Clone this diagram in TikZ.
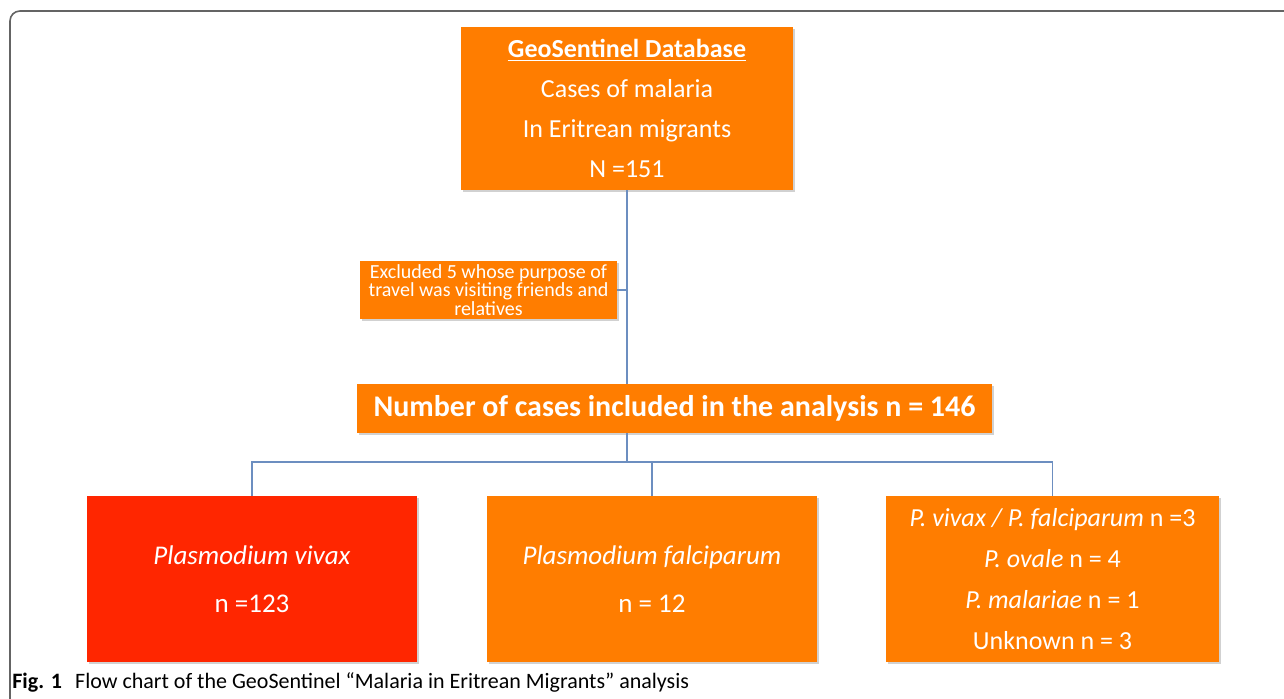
\documentclass[tikz,border=0pt]{standalone}
\usepackage{fontspec}
\setmainfont{Carlito}
\usetikzlibrary{shadows}
\definecolor{boxorange}{RGB}{255,125,0}
\definecolor{boxred}{RGB}{255,38,0}
\definecolor{linkblue}{RGB}{108,142,192}
\definecolor{framegray}{RGB}{100,100,100}
\begin{document}
\begin{tikzpicture}[x=0.5pt,y=-0.5pt,
    cbox/.style={fill=boxorange,text=white,align=center,inner sep=0pt,
        drop shadow={shadow xshift=0.8pt,shadow yshift=-0.8pt,opacity=0.3,fill=black!60}},
    link/.style={draw=linkblue,line width=0.7pt}]
    \useasboundingbox (0,0) rectangle (1284,699);
    \draw[framegray,line width=0.8pt,rounded corners=5pt] (10,720) -- (10,11) -- (1300,11);
    \node[cbox,minimum width=166pt,minimum height=81.5pt,font=\fontsize{13pt}{20pt}\selectfont] (db) at (627,108.5)
        {\underline{\textbf{GeoSentinel Database}}\\Cases of malaria\\In Eritrean migrants\\N =151};
    \node[cbox,minimum width=128.5pt,minimum height=29pt,font=\fontsize{10pt}{9.2pt}\selectfont] (excl) at (488.5,290)
        {Excluded 5 whose purpose of\\travel was visiting friends and\\relatives};
    \node[cbox,minimum width=317.5pt,minimum height=24.5pt,font=\fontsize{15pt}{18pt}\selectfont\bfseries] (incl) at (674.5,408.5)
        {Number of cases included in the analysis n = 146};
    \node[cbox,fill=boxred,minimum width=165pt,minimum height=83pt,font=\fontsize{13.5pt}{24pt}\selectfont] (vivax) at (252,579)
        {\textit{Plasmodium vivax}\\n =123};
    \node[cbox,minimum width=165pt,minimum height=83pt,font=\fontsize{13.5pt}{24pt}\selectfont] (falc) at (652,579)
        {\textit{Plasmodium falciparum}\\n = 12};
    \node[cbox,minimum width=166.5pt,minimum height=83pt,font=\fontsize{13pt}{20.5pt}\selectfont] (other) at (1052.5,579)
        {\textit{P. vivax / P. falciparum} n =3\\\textit{P. ovale} n = 4\\\textit{P. malariae} n = 1\\Unknown n = 3};
    \coordinate (bus) at (0,462);
    \draw[link] (db.south) -- (db.south |- incl.north);
    \draw[link] (excl.east) -- (excl.east -| db.south);
    \draw[link] (db.south |- incl.south) -- (db.south |- bus);
    \draw[link] (vivax.north) -- (vivax.north |- bus) -- (other.north |- bus) -- (other.north);
    \draw[link] (falc.north) -- (falc.north |- bus);
    \node[anchor=base west,inner sep=0pt,font=\fontsize{11pt}{13pt}\selectfont] (cap) at (12,688)
        {\textbf{Fig. 1}\hspace{0.6em}Flow chart of the GeoSentinel “Malaria in Eritrean Migrants” analysis};
\end{tikzpicture}
\end{document}
